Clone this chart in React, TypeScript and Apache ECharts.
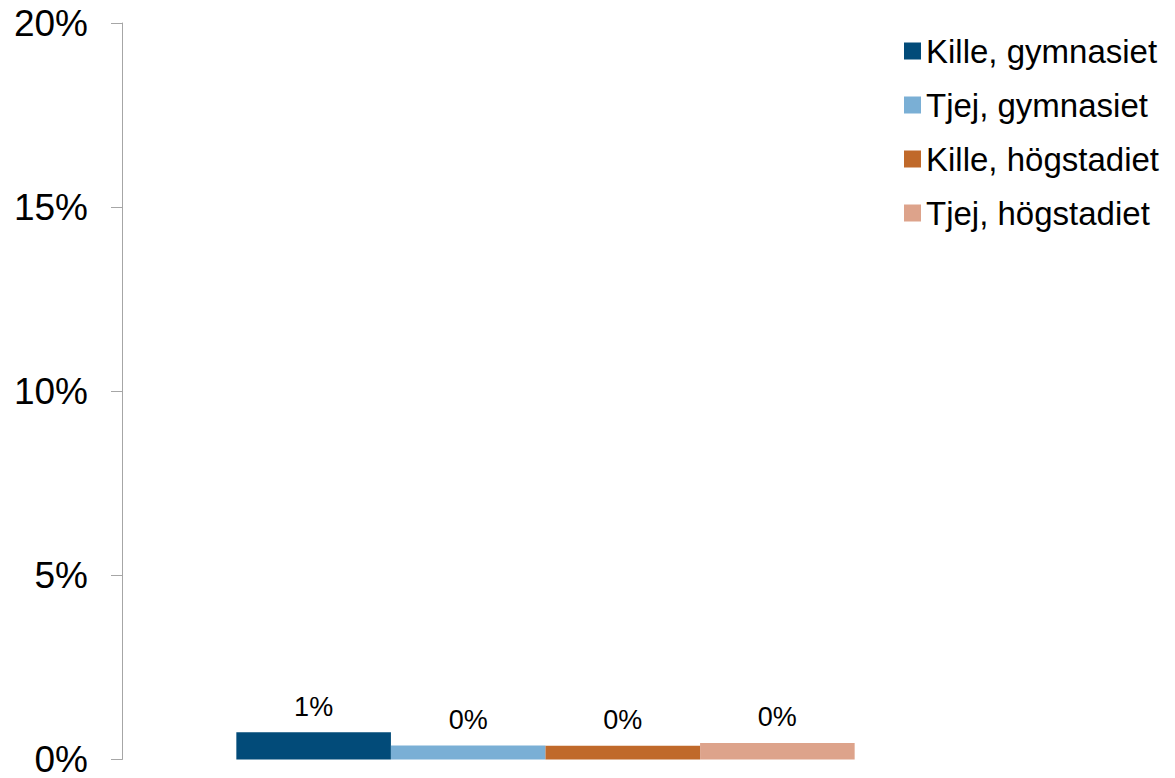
import React, { useEffect, useRef } from "react";
import * as echarts from "echarts";

const categories = [""];
const seriesNames = ["Kille, gymnasiet", "Tjej, gymnasiet", "Kille, högstadiet", "Tjej, högstadiet"];
const killeGymnasiet = [0.74];
const tjejGymnasiet = [0.38];
const killeHogstadiet = [0.37];
const tjejHogstadiet = [0.45];
const seriesColors = ["#024B79", "#7AAFD5", "#C0692A", "#DDA38B"];
const yTicks = { min: 0, max: 20, interval: 5 };

const FONT = "Liberation Sans, Arial, sans-serif";

export default function App() {
  const ref = useRef<HTMLDivElement>(null);
  useEffect(() => {
    if (!ref.current) return;
    const chart = echarts.init(ref.current, undefined, { renderer: "svg" });
    const values = [killeGymnasiet, tjejGymnasiet, killeHogstadiet, tjejHogstadiet];
    chart.setOption({
      animation: false,
      backgroundColor: "#ffffff",
      textStyle: { fontFamily: FONT },
      grid: { left: 122, top: 23, right: 206, bottom: 15, containLabel: false },
      legend: {
        show: true,
        orient: "vertical",
        left: 899,
        top: 29,
        itemWidth: 17,
        itemHeight: 17,
        itemGap: 20,
        itemTextGap: 9,
        itemStyle: { borderWidth: 0 },
        icon: "rect",
        textStyle: { fontSize: 33, color: "#000", fontFamily: FONT, lineHeight: 34 },
        data: seriesNames,
      },
      xAxis: {
        type: "category",
        data: categories,
        axisLine: { show: false },
        axisTick: { show: false },
        axisLabel: { show: false },
        splitLine: { show: false },
      },
      yAxis: {
        type: "value",
        min: yTicks.min,
        max: yTicks.max,
        interval: yTicks.interval,
        axisLine: { show: true, lineStyle: { color: "#A6A6A6", width: 1 } },
        axisTick: { show: true, length: 11, inside: false, lineStyle: { color: "#A6A6A6" } },
        splitLine: { show: false },
        axisLabel: {
          formatter: "{value}%",
          fontSize: 37,
          lineHeight: 28,
          color: "#000",
          margin: 34,
          fontFamily: FONT,
        },
      },
      series: seriesNames.map((name, i) => ({
        name,
        type: "bar",
        data: values[i],
        barGap: "0%",
        barCategoryGap: "27%",
        itemStyle: { color: seriesColors[i] },
        label: {
          show: true,
          position: "top",
          distance: 12,
          fontSize: 27,
          color: "#000",
          fontFamily: FONT,
          formatter: (p: any) => Math.round(p.value) + "%",
        },
      })),
    });
    return () => chart.dispose();
  }, []);
  return (
    <div
      ref={ref}
      style={{ position: "fixed", left: 0, top: 0, width: 1175, height: 778 }}
    />
  );
}
